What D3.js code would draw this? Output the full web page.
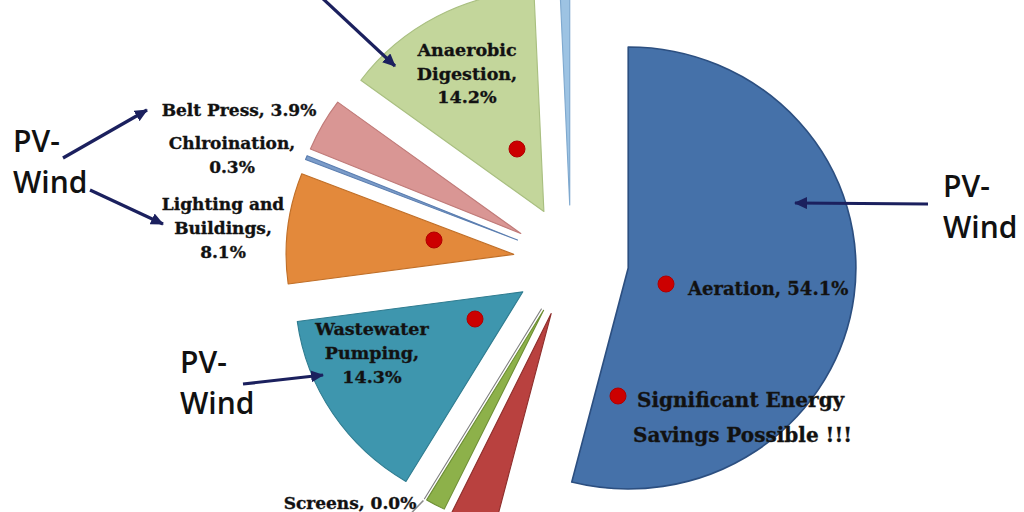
<!DOCTYPE html>
<html><head><meta charset="utf-8">
<script src="https://cdn.jsdelivr.net/npm/d3@7"></script>
<style>
html,body{margin:0;padding:0;background:#fff;}
svg{display:block;}
</style></head><body>
<svg id="chart" width="1024" height="512"></svg>
<script>
// ---- data ----
const categories = ["Aeration","Clarifiers","Grit","Screens","Wastewater Pumping","Lighting and Buildings","Chlroination","Belt Press","Anaerobic Digestion","Gravity Thickening"];
const values = [54.1, 3.2, 1.4, 0.0, 14.3, 8.1, 0.3, 3.9, 14.2, 0.7];
const fills   = ["#4571a9","#b9413f","#8db14a","#7f7f7f","#3e96ae","#e3893b","#7b9cc9","#d99694","#c3d69b","#9dc3e3"];
const strokes = ["#2c4f80","#8e2e2c","#6d8f33","#7f7f7f","#2f7c90","#c06f28","#5b7eb0","#c07b79","#a9bf80","#7fa9cf"];
const sliceLabels = [
  ["Aeration, 54.1%"], [], [], ["Screens, 0.0%"],
  ["Wastewater","Pumping,","14.3%"], ["Lighting and","Buildings,","8.1%"],
  ["Chlroination,","0.3%"], ["Belt Press, 3.9%"], ["Anaerobic","Digestion,","14.2%"], []
];
const noteLines = ["Significant Energy","Savings Possible !!!"];
const pvLines = ["PV-","Wind"];

// ---- layout ----
const svg = d3.select("#chart");
const cx = 571, cy = 261, R = 221, explode = 56, stretchX = 1.03;

const pie = d3.pie().value(d => d).sort(null).startAngle(0).endAngle(2 * Math.PI);
const arcs = pie(values);
const arc = d3.arc().innerRadius(0).outerRadius(R);
const unit = a => [Math.sin(a), -Math.cos(a)];

const gPie = svg.append("g").attr("transform", `translate(${cx},${cy}) scale(${stretchX},1)`);
gPie.selectAll("path.slice")
  .data(arcs)
  .join("path")
  .attr("class", "slice")
  .attr("transform", d => {
    const m = (d.startAngle + d.endAngle) / 2, u = unit(m);
    return `translate(${u[0] * explode},${u[1] * explode})`;
  })
  .attr("d", arc)
  .attr("fill", (d, i) => fills[i])
  .attr("stroke", (d, i) => strokes[i])
  .attr("stroke-width", (d, i) => i === 0 ? 1.6 : 1.1)
  .attr("stroke-linejoin", "round");

// screens leader line (zero-size slice)
{
  const d = arcs[3], m = d.startAngle, u = unit(m);
  const r0 = explode + R + 2, r1 = explode + R + 16;
  gPie.append("line")
    .attr("x1", u[0] * r0).attr("y1", u[1] * r0)
    .attr("x2", u[0] * r1 - 4).attr("y2", u[1] * r1)
    .attr("stroke", "#8a8a8a").attr("stroke-width", 1.5);
}

// ---- slice labels ----
const serif = "'DejaVu Serif', serif";
function block(lines, x, y, lh, size, anchor) {
  const t = svg.append("text")
    .attr("font-family", serif).attr("font-weight", "bold")
    .attr("font-size", size).attr("fill", "#111")
    .attr("text-anchor", anchor)
    .attr("stroke", "#1a1a1a").attr("stroke-width", 0.35);
  lines.forEach((s, k) => t.append("tspan").attr("x", x).attr("y", y + k * lh).text(s));
}
block(sliceLabels[8], 467, 56, 23.5, 17.5, "middle");
block(sliceLabels[7], 239, 116, 24, 17, "middle");
block(sliceLabels[6], 232, 149, 23.5, 17, "middle");
block(sliceLabels[5], 223, 210, 24, 17, "middle");
block(sliceLabels[4], 372, 335, 24, 17.5, "middle");
block(sliceLabels[3], 350, 509, 24, 17, "middle");
block(sliceLabels[0], 688, 295, 24, 18, "start");
block([noteLines[0]], 637, 407, 35, 20, "start");
block([noteLines[1]], 633, 442, 35, 20, "start");

// ---- red dots ----
const dots = [[517,149],[434,240],[475,319],[666,284],[618,396]];
svg.selectAll("circle.dot").data(dots).join("circle")
  .attr("class", "dot")
  .attr("cx", d => d[0]).attr("cy", d => d[1]).attr("r", 8)
  .attr("fill", "#cc0000").attr("stroke", "#b00000").attr("stroke-width", 1);

// ---- PV-Wind annotations ----
const pvPos = [[13,152],[180,373],[943,197]];
pvPos.forEach(p => {
  const t = svg.append("text").attr("font-family", "'Open Sans', sans-serif")
    .attr("font-size", 30).attr("font-weight", 600).attr("fill", "#111");
  pvLines.forEach((s, k) => t.append("tspan").attr("x", p[0]).attr("y", p[1] + k * 41).text(s));
});

// ---- arrows ----
const navy = "#1b205e";
svg.append("defs").append("marker")
  .attr("id", "ah").attr("markerUnits", "userSpaceOnUse")
  .attr("markerWidth", 14).attr("markerHeight", 12)
  .attr("refX", 12).attr("refY", 6).attr("orient", "auto")
  .append("path").attr("d", "M0,0 L13,6 L0,12 Z").attr("fill", navy);
const arrows = [[320,-4,395,66],[63,158,147,110],[90,190,163,224],[243,384,323,375],[928,204,795,203]];
svg.selectAll("line.arrow").data(arrows).join("line")
  .attr("class", "arrow")
  .attr("x1", d => d[0]).attr("y1", d => d[1]).attr("x2", d => d[2]).attr("y2", d => d[3])
  .attr("stroke", navy).attr("stroke-width", 3.2)
  .attr("marker-end", "url(#ah)");
</script>
</body></html>
